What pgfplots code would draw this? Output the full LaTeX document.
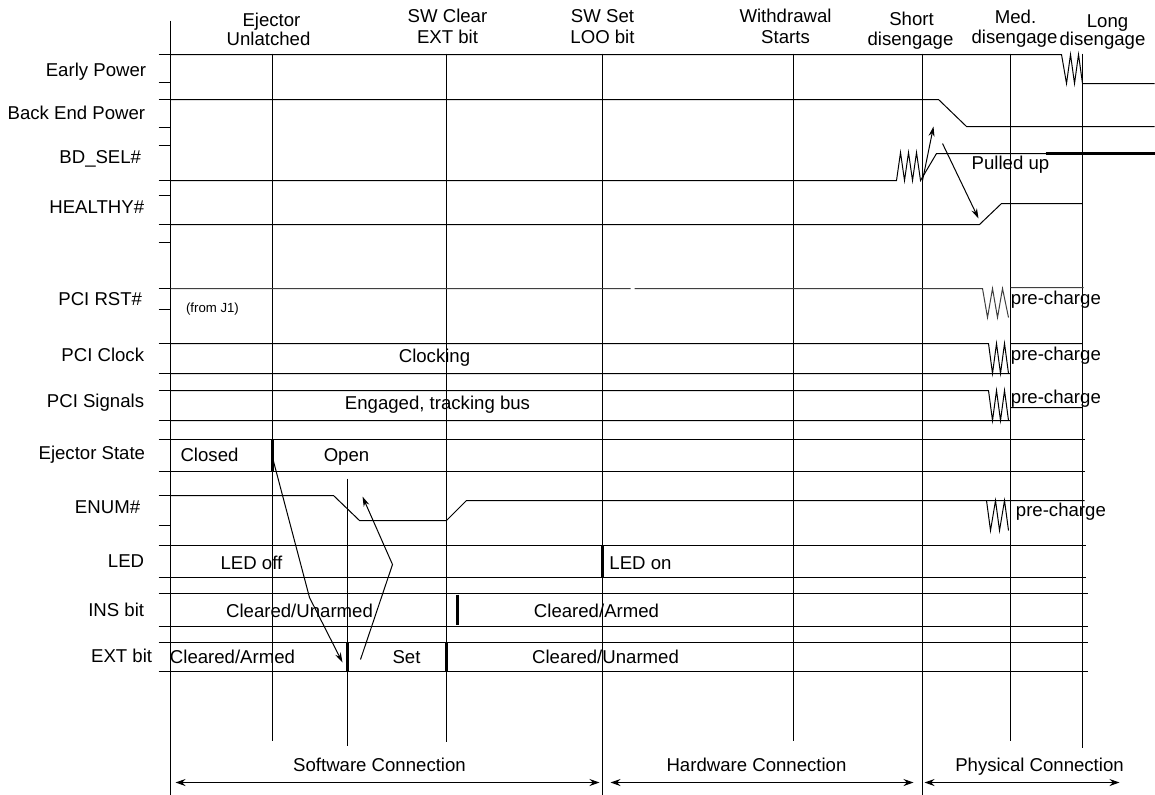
\documentclass[border=0pt]{standalone}
\usepackage{pgfplots}
\pgfplotsset{compat=1.18}
\usepackage{fontspec}
\setmainfont{Liberation Sans}
\usetikzlibrary{arrows.meta}

\tikzset{
    sig/.style={black, line width=0.5pt},
    mk/.style={black, line width=1.1pt},
    arr/.style={black, line width=0.5pt, -{Stealth[length=5pt,width=3pt]}},
    dbl/.style={black, line width=0.5pt, {Stealth[length=5pt,width=3.5pt]}-{Stealth[length=5pt,width=3.5pt]}},
    lbl/.style={font=\fontsize{9.3}{9.5}\selectfont, inner sep=0pt},
}

\begin{document}
\begin{tikzpicture}
\begin{axis}[
    name=td,
    x=0.5pt, y=0.5pt, y dir=reverse,
    xmin=0, xmax=1155, ymin=0, ymax=794,
    hide axis, clip=false,
    unbounded coords=jump,
]
% left axis and its ticks
\addplot[sig, mark=none] coordinates {(170,20) (170,794)};
\addplot[black, line width=0.9pt, mark=none] coordinates {
    (158,54)(170,54) (0,nan) (158,82)(170,82) (0,nan)
    (158,99)(170,99) (0,nan) (158,127)(170,127) (0,nan)
    (158,145)(170,145) (0,nan) (158,180)(170,180) (0,nan)
    (158,195)(170,195) (0,nan) (158,224)(170,224) (0,nan)
    (158,242)(170,242) (0,nan) (158,288)(170,288) (0,nan)
    (158,309)(170,309) (0,nan) (158,343)(170,343) (0,nan)
    (158,373)(170,373) (0,nan) (158,390)(170,390) (0,nan)
    (158,420)(170,420) (0,nan) (158,439)(170,439) (0,nan)
    (158,471)(170,471) (0,nan) (158,495)(170,495) (0,nan)
    (158,525)(170,525) (0,nan) (158,545)(170,545) (0,nan)
    (158,577)(170,577) (0,nan) (158,593)(170,593) (0,nan)
    (158,626)(170,626) (0,nan) (158,642)(170,642) (0,nan)
    (158,671)(170,671)
};

% event lines
\addplot[sig, mark=none] coordinates {
    (272,53)(272,740) (0,nan) (446,53)(446,741) (0,nan)
    (602,53)(602,794) (0,nan) (793,53)(793,740) (0,nan)
    (922,53)(922,794) (0,nan) (1010,53)(1010,740) (0,nan)
    (1082,53)(1082,747) (0,nan) (347,478)(347,745)
};

% Early Power
\addplot[sig, mark=none] coordinates {(170,54)(1061,54)(1066,83)(1070,54)(1074,83)(1078,54)(1082,83)(1154,83)};
% Back End Power
\addplot[sig, mark=none] coordinates {(170,99)(938,99)(966,126)(1154,126)};
% BD_SEL#
\addplot[sig, mark=none] coordinates {(170,180)(896,180)(900,152)(904,180)(908,152)(912,180)(916,152)(920,180)(936,153)(1154,153)};
\addplot[mk, mark=none] coordinates {(1045,153)(1154,153)};
% HEALTHY#
\addplot[sig, mark=none] coordinates {(170,224)(979,224)(1001,203)(1082,203)};
% PCI RST#
\addplot[sig, mark=none, black!75] coordinates {(170,288)(630,288) (0,nan) (634,288)(982,288)(987,317)(992,288)(997,317)(1002,288)(1008,317) (0,nan) (1010,287)(1083,287)};
% PCI Clock
\addplot[sig, mark=none] coordinates {(170,343)(988,343)(992,373)(996,343)(1000,373)(1004,343)(1008,373) (0,nan) (170,373)(1010,373) (0,nan) (1010,343)(1082,343)};
% PCI Signals
\addplot[sig, mark=none] coordinates {(170,390)(988,390)(992,420)(996,390)(1000,420)(1004,390)(1008,420) (0,nan) (170,420)(1010,420) (0,nan) (1010,407)(1082,407)};
% Ejector State
\addplot[sig, mark=none] coordinates {(170,439)(1084,439) (0,nan) (170,471)(1084,471)};
% ENUM#
\addplot[sig, mark=none] coordinates {(170,495)(333,495)(359,520)(446,520)(466,500)(1084,500)};
\addplot[sig, mark=none] coordinates {(986,500)(990,530)(995,500)(999,530)(1004,500)(1008,530)};
% LED, INS bit, EXT bit
\addplot[sig, mark=none] coordinates {(170,545)(1085,545) (0,nan) (170,577)(1085,577)};
\addplot[sig, mark=none] coordinates {(170,593)(1087,593) (0,nan) (170,626)(1087,626)};
\addplot[sig, mark=none] coordinates {(170,642)(1087,642) (0,nan) (170,671)(1087,671)};

% state changes
\addplot[mk, mark=none] coordinates {(272,439)(272,471)};
\addplot[mk, mark=none] coordinates {(602,545)(602,577)};
\addplot[mk, mark=none] coordinates {(457,594)(457,624)};
\addplot[mk, mark=none] coordinates {(347,642)(347,671)};
\addplot[mk, mark=none] coordinates {(446,642)(446,671)};

% cause arrows
\addplot[arr, mark=none] coordinates {(272,457)(309,597)(342,662)};
\addplot[arr, mark=none] coordinates {(360,659)(392,564)(362,496)};
\addplot[arr, mark=none] coordinates {(922,180)(933,126)};
\addplot[arr, mark=none] coordinates {(942,143)(978,218)};

% phase arrows
\addplot[dbl, mark=none] coordinates {(175,782)(599,782)};
\addplot[dbl, mark=none] coordinates {(610,782)(913,782)};
\addplot[dbl, mark=none] coordinates {(924,782)(1119,782)};

% event headers
\node[lbl, anchor=base] at (axis cs:271,26) {Ejector};
\node[lbl, anchor=base] at (axis cs:268,45) {Unlatched};
\node[lbl, anchor=base] at (axis cs:447,22) {SW Clear};
\node[lbl, anchor=base] at (axis cs:447,43) {EXT bit};
\node[lbl, anchor=base] at (axis cs:602,22) {SW Set};
\node[lbl, anchor=base] at (axis cs:602,43) {LOO bit};
\node[lbl, anchor=base] at (axis cs:785,22) {Withdrawal};
\node[lbl, anchor=base] at (axis cs:785,43) {Starts};
\node[lbl, anchor=base] at (axis cs:911,25) {Short};
\node[lbl, anchor=base] at (axis cs:910,45) {disengage};
\node[lbl, anchor=base] at (axis cs:1015,23) {Med.};
\node[lbl, anchor=base] at (axis cs:1014,43) {disengage};
\node[lbl, anchor=base] at (axis cs:1107,27) {Long};
\node[lbl, anchor=base] at (axis cs:1102,45) {disengage};

% signal names
\node[lbl, anchor=base east] at (axis cs:146,76) {Early Power};
\node[lbl, anchor=base east] at (axis cs:145,119) {Back End Power};
\node[lbl, anchor=base east] at (axis cs:141,163) {BD\_SEL\#};
\node[lbl, anchor=base east] at (axis cs:144,213) {HEALTHY\#};
\node[lbl, anchor=base east] at (axis cs:142,305) {PCI RST\#};
\node[lbl, anchor=base east] at (axis cs:144,361) {PCI Clock};
\node[lbl, anchor=base east] at (axis cs:144,407) {PCI Signals};
\node[lbl, anchor=base east] at (axis cs:145,459) {Ejector State};
\node[lbl, anchor=base east] at (axis cs:140,513) {ENUM\#};
\node[lbl, anchor=base east] at (axis cs:144,567) {LED};
\node[lbl, anchor=base east] at (axis cs:144,616) {INS bit};
\node[lbl, anchor=base east] at (axis cs:152,662) {EXT bit};

% states
\node[lbl, anchor=base, font=\fontsize{6.6}{7}\selectfont] at (axis cs:212,312) {(from J1)};
\node[lbl, anchor=base] at (axis cs:434,362) {Clocking};
\node[lbl, anchor=base] at (axis cs:437,409) {Engaged, tracking bus};
\node[lbl, anchor=base] at (axis cs:209,461) {Closed};
\node[lbl, anchor=base] at (axis cs:346,461) {Open};
\node[lbl, anchor=base] at (axis cs:251,569) {LED off};
\node[lbl, anchor=base] at (axis cs:640,569) {LED on};
\node[lbl, anchor=base] at (axis cs:299,617) {Cleared/Unarmed};
\node[lbl, anchor=base] at (axis cs:596,617) {Cleared/Armed};
\node[lbl, anchor=base] at (axis cs:232,663) {Cleared/Armed};
\node[lbl, anchor=base] at (axis cs:406,663) {Set};
\node[lbl, anchor=base] at (axis cs:605,663) {Cleared/Unarmed};
\node[lbl, anchor=base] at (axis cs:1010,169) {Pulled up};
\node[lbl, anchor=base west] at (axis cs:1010,304) {pre-charge};
\node[lbl, anchor=base west] at (axis cs:1010,360) {pre-charge};
\node[lbl, anchor=base west] at (axis cs:1010,403) {pre-charge};
\node[lbl, anchor=base west] at (axis cs:1015,516) {pre-charge};

% phases
\node[lbl, anchor=base] at (axis cs:379,771) {Software Connection};
\node[lbl, anchor=base] at (axis cs:756,771) {Hardware Connection};
\node[lbl, anchor=base] at (axis cs:1039,771) {Physical Connection};
\end{axis}
% half-pixel shift so that 1px lines fall on pixel centres
\pgfresetboundingbox
\path ([shift={(-0.25pt,0.25pt)}]td.south west) rectangle ([shift={(-0.25pt,0.25pt)}]td.north east);
\end{tikzpicture}
\end{document}
